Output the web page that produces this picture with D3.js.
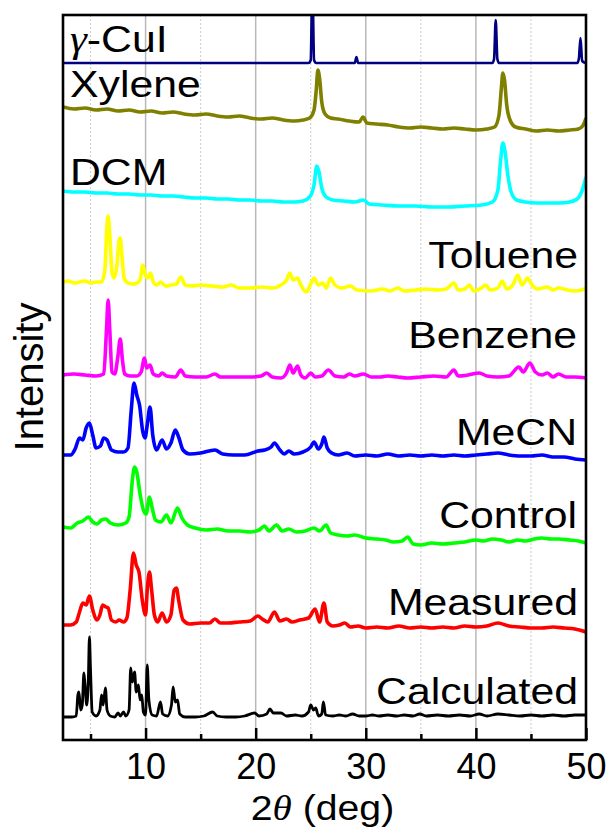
<!DOCTYPE html>
<html>
<head>
<meta charset="utf-8">
<script src="https://cdn.jsdelivr.net/npm/d3@7"></script>
<style>
  html, body { margin: 0; padding: 0; background: #fff; }
  svg { display: block; }
  text { font-family: "Liberation Sans", Arial, sans-serif; fill: #000; }
</style>
</head>
<body>
<div id="chart"></div>
<script>
// ---------------- DATA (2θ in degrees, stacked intensity in arbitrary units) ----------------
const xTicks = [10, 20, 30, 40, 50];
const xMinorTicks = [5, 15, 25, 35, 45];
const seriesNames = ["γ-CuI", "Xylene", "DCM", "Toluene", "Benzene", "MeCN", "Control", "Measured", "Calculated"];
const seriesColors = ["#000080", "#808000", "#00FFFF", "#FFFF00", "#FF00FF", "#0000FF", "#00FF00", "#FF0000", "#000000"];

const cuiData = [[2.5,677],[24.8,677],[25.0,680],[25.15,760],[25.3,680],[25.5,677],[29.0,677],[29.15,683],[29.3,677],[41.5,677],[41.65,681],[41.8,720],[41.95,681],[42.1,677],[49.2,677],[49.35,681],[49.5,702],[49.65,679],[50,677]];

const xyleneData = [[2.5,633],[3.5,631],[4.5,632],[5.5,630],[6.5,631],[7.5,629],[8.5,630],[9.5,628],[10.5,629],[11.5,627],[12.5,628],[13.5,626],[14.5,625],[15.5,626],[16.5,624],[17.5,623],[18.5,624],[19.5,622],[20.5,621],[21.5,622],[22.5,620],[23.5,619],[24.3,620],[24.9,622],[25.3,630],[25.5,650],[25.65,670],[25.8,662],[26.0,638],[26.3,626],[26.8,622],[27.5,621],[28.5,619],[29.4,618],[29.75,623],[30.1,617],[31,616],[32,615],[33,613],[34,612],[35,613],[36,612],[37,611],[38,612],[39,611],[40,610],[41,611],[41.7,613],[42.1,625],[42.3,650],[42.45,667],[42.6,660],[42.8,635],[43.1,620],[43.6,613],[44.5,611],[45.5,609],[46.5,610],[47.5,609],[48.5,610],[49.3,611],[49.7,614],[50,622]];

const dcmData = [[2.5,549],[3.5,548],[4.5,548],[5.5,547],[6.5,547],[7.5,546],[8.5,546],[9.5,545],[10.5,545],[11.5,544],[12.5,544],[13.5,543],[14.5,542],[15.5,542],[16.5,541],[17.5,541],[18.5,540],[19.5,540],[20.5,539],[21.5,539],[22.5,538],[23.5,538],[24.3,539],[24.9,543],[25.3,555],[25.55,574],[25.75,568],[26.0,552],[26.4,543],[27,540],[28,539],[29,538],[29.8,540],[30.3,536],[31.5,535],[33,534],[34.5,534],[36,533],[37.5,533],[39,534],[40.5,535],[41.5,538],[42.0,550],[42.25,580],[42.45,597],[42.65,588],[42.9,565],[43.2,548],[43.7,540],[44.5,538],[45.5,537],[46.5,537],[47.5,537],[48.5,538],[49.2,541],[49.6,548],[50,563]];

const tolueneData = [[2.5,458],[3,459],[3.5,457],[4,458],[4.5,459],[5,457],[5.5,458],[6.0,458],[6.3,470],[6.5,515],[6.6,524],[6.75,505],[6.95,468],[7.15,462],[7.4,475],[7.6,500],[7.7,502],[7.85,485],[8.05,462],[8.4,457],[9.0,456],[9.5,460],[9.75,475],[9.95,466],[10.2,462],[10.45,467],[10.7,458],[11.0,455],[11.4,458],[11.8,454],[12.3,455],[12.8,456],[13.2,463],[13.6,455],[14.2,454],[15,455],[16,454],[17,453],[17.8,455],[18.5,452],[19.5,452],[20.5,453],[21.5,452],[22.3,455],[22.8,460],[23.1,467],[23.4,460],[23.8,462],[24.1,455],[24.6,448],[25.0,456],[25.3,462],[25.7,455],[26.1,457],[26.4,452],[26.8,462],[27.2,455],[27.8,452],[28.6,454],[29.2,450],[30.5,449],[31.5,451],[32.2,449],[32.9,452],[33.5,449],[34.5,450],[35.5,451],[36.5,450],[37.3,451],[38.0,457],[38.4,450],[39.0,451],[39.4,455],[39.8,449],[40.5,452],[40.9,455],[41.3,450],[42.0,452],[42.4,459],[42.8,451],[43.4,456],[43.8,465],[44.2,455],[44.7,462],[45.1,455],[45.6,451],[46.5,453],[47,450],[47.5,452],[48.3,450],[49,449],[49.6,450],[50,452]];

const benzeneData = [[2.5,365],[3.5,366],[4.5,365],[5.5,364],[6.2,366],[6.45,410],[6.6,440],[6.75,410],[6.95,368],[7.2,366],[7.5,385],[7.7,401],[7.9,380],[8.1,366],[8.6,364],[9.2,364],[9.6,368],[9.9,382],[10.1,372],[10.4,375],[10.7,366],[11.2,364],[11.5,367],[11.9,364],[12.7,363],[13.2,370],[13.6,364],[14.5,363],[15.5,363],[16.3,366],[16.8,363],[18,363],[19.5,363],[20.5,364],[21,367],[21.5,363],[22.3,362],[22.8,367],[23.1,375],[23.4,367],[23.8,374],[24.1,365],[24.5,362],[25.0,367],[25.4,363],[26.0,364],[26.6,370],[27.2,364],[28,363],[28.5,366],[29,364],[29.8,366],[30.5,363],[31.3,363],[32,364],[32.9,363],[33.8,362],[35,363],[36.2,364],[37.3,363],[38.0,370],[38.4,364],[39.3,365],[40.3,367],[41,364],[42,363],[43,364],[43.9,373],[44.3,368],[44.9,377],[45.4,368],[46,365],[46.5,367],[47,363],[47.5,366],[48.2,363],[49,363],[50,362]];

const mecnData = [[2.5,285],[3.2,285],[3.6,291],[4.0,302],[4.3,300],[4.6,312],[4.9,317],[5.2,305],[5.5,292],[5.9,294],[6.2,302],[6.5,300],[6.9,290],[7.5,288],[8.0,288],[8.4,292],[8.7,330],[8.95,357],[9.2,345],[9.45,335],[9.75,308],[9.95,302],[10.15,315],[10.4,333],[10.65,305],[11.0,290],[11.5,300],[11.9,291],[12.3,297],[12.7,310],[13.0,303],[13.4,290],[14,286],[15,287],[16.3,290],[17.0,286],[18,285],[19,285],[20.2,289],[20.8,290],[21.4,293],[21.7,297],[22.2,290],[22.6,286],[23.0,289],[23.5,286],[24.3,288],[25.0,293],[25.3,298],[25.7,291],[26.0,296],[26.2,303],[26.5,292],[26.9,287],[27.5,285],[28.3,287],[29,284],[30,285],[31,284],[32,286],[33,284],[34,285],[35,284],[36,285],[37,284],[38,285],[39,284],[40,285],[41,286],[42,287],[43,285],[44,284],[45,284],[46,285],[47,283],[48,283],[49,281],[50,280]];

const controlData = [[2.5,213],[3.2,212],[3.8,217],[4.3,219],[4.8,223],[5.2,218],[5.6,216],[6.0,220],[6.4,221],[6.8,217],[7.5,215],[8.2,217],[8.5,223],[8.8,260],[9.0,273],[9.2,268],[9.5,246],[9.8,230],[10.05,226],[10.35,243],[10.6,232],[10.9,220],[11.4,218],[11.9,225],[12.3,217],[12.9,232],[13.3,222],[13.8,215],[14.5,212],[15.5,210],[16.5,211],[17.5,209],[18.5,209],[19.5,208],[20.3,210],[20.8,214],[21.2,209],[21.9,215],[22.4,209],[23.0,211],[23.7,208],[24.5,209],[25.3,212],[25.8,209],[26.4,215],[26.8,207],[27.5,205],[28.3,204],[29,205],[30,202],[31,201],[31.8,200],[32.5,198],[33.3,199],[33.8,203],[34.3,196],[35,195],[36,197],[37,196],[38,197],[39,198],[40,200],[40.7,199],[41.5,201],[42.3,200],[43,198],[43.8,200],[44.5,199],[45.3,201],[46,202],[46.8,201],[47.5,201],[48.5,200],[49.3,199],[50,197]];

const measuredData = [[2.5,115],[3.2,115],[3.7,118],[4.0,128],[4.3,137],[4.6,135],[4.9,144],[5.2,130],[5.6,120],[5.85,125],[6.1,135],[6.4,133],[6.6,132],[6.9,120],[7.3,118],[7.6,120],[8.0,118],[8.3,122],[8.6,150],[8.9,187],[9.15,175],[9.4,168],[9.7,140],[10.0,125],[10.15,150],[10.35,168],[10.55,150],[10.8,125],[11.1,118],[11.5,127],[11.9,118],[12.3,125],[12.6,150],[12.8,152],[13.0,140],[13.4,120],[14,116],[15,117],[15.8,117],[16.3,121],[16.8,117],[17.5,117],[18.5,118],[19.5,119],[20.2,124],[20.6,121],[21.1,118],[21.7,128],[22.2,119],[22.8,121],[23.3,118],[24,120],[24.8,122],[25.4,131],[25.8,118],[26.2,137],[26.5,118],[27,114],[27.6,115],[28.1,117],[28.6,113],[29.3,114],[30,112],[31,113],[32,112],[33,114],[34,112],[35,113],[36,112],[37,113],[38,112],[39,114],[40,113],[41,114],[42,117],[43,114],[44,113],[45,112],[46,112],[47,113],[48,112],[49,111],[50,108]];

const calculatedData = [[2.5,23],[3.3,23],[3.7,24],[3.85,45],[3.95,48],[4.1,30],[4.25,35],[4.4,67],[4.5,55],[4.65,35],[4.8,60],[4.9,103],[5.0,70],[5.15,28],[5.5,24],[5.85,30],[6.0,45],[6.15,35],[6.35,52],[6.5,30],[6.8,24],[7.2,23],[7.5,27],[7.7,24],[8.0,28],[8.2,24],[8.5,30],[8.65,72],[8.8,58],[9.0,68],[9.15,48],[9.35,55],[9.5,40],[9.65,45],[9.8,28],[10.0,25],[10.15,75],[10.3,40],[10.6,25],[11.0,24],[11.35,38],[11.55,26],[12.0,24],[12.35,35],[12.5,53],[12.7,38],[12.9,40],[13.1,26],[13.6,23],[14.5,23],[15.3,24],[16.1,28],[16.5,24],[17.3,23],[18.2,23],[19,24],[19.9,27],[20.3,24],[21.0,26],[21.3,31],[21.6,27],[22.3,27],[22.8,24],[23.6,25],[24.2,24],[24.8,28],[25.0,35],[25.25,30],[25.45,32],[25.7,24],[26.0,26],[26.15,38],[26.35,25],[27,24],[27.6,25],[28.2,24],[28.8,26],[29.4,24],[30,24],[30.6,25],[31.2,24],[32,25],[32.8,24],[33.5,25],[34.3,24],[34.9,26],[35.5,24],[36.5,25],[37.5,24],[38.5,25],[39.5,24],[40.3,26],[41,24],[42,26],[43,25],[44,24],[45,25],[46,24],[47,25],[48,24],[49,25],[50,25]];

const seriesData = [cuiData, xyleneData, dcmData, tolueneData, benzeneData, mecnData, controlData, measuredData, calculatedData];

// ---------------- LAYOUT ----------------
const W = 615, H = 834;
const margin = { left: 63, right: 29, top: 15, bottom: 94 };
const plotW = W - margin.left - margin.right;
const plotH = H - margin.top - margin.bottom;

// label placement: [x, baseline y, anchor]
const labelLayout = [
  [70, 52, "start"],
  [70, 97, "start"],
  [70, 185, "start"],
  [578, 268, "end"],
  [577, 348, "end"],
  [577, 445, "end"],
  [577, 528, "end"],
  [578, 615, "end"],
  [578, 704, "end"]
];
const lineWidths = [2.6, 3.6, 3.6, 3.6, 3.6, 3.6, 3.6, 3.6, 2.8];

const svg = d3.select("#chart").append("svg").attr("width", W).attr("height", H);

const x = d3.scaleLinear().domain([2.5, 50]).range([0, plotW]);
const y = d3.scaleLinear().domain([0, plotH]).range([plotH, 0]);

const g = svg.append("g").attr("transform", `translate(${margin.left},${margin.top})`);

svg.append("defs").append("clipPath").attr("id", "clip")
  .append("rect").attr("x", 0).attr("y", 0).attr("width", plotW).attr("height", plotH);

// grid lines
g.selectAll(".gmaj").data(xTicks.filter(d => d < 50)).enter().append("line")
  .attr("x1", d => x(d)).attr("x2", d => x(d)).attr("y1", 0).attr("y2", plotH)
  .attr("stroke", "#b8b8b8").attr("stroke-width", 1.5);
g.selectAll(".gmin").data(xMinorTicks).enter().append("line")
  .attr("x1", d => x(d)).attr("x2", d => x(d)).attr("y1", 0).attr("y2", plotH)
  .attr("stroke", "#cfcfcf").attr("stroke-width", 1.1).attr("stroke-dasharray", "2,2");

// traces
const line = d3.line().x(d => x(d[0])).y(d => y(d[1])).curve(d3.curveMonotoneX);
const traces = g.append("g").attr("clip-path", "url(#clip)");
seriesData.forEach((data, i) => {
  traces.append("path").datum(data)
    .attr("d", line)
    .attr("fill", "none")
    .attr("stroke", seriesColors[i])
    .attr("stroke-width", lineWidths[i])
    .attr("stroke-linejoin", "round");
});

// axes ticks (inward)
const xAxis = d3.axisBottom(x).tickValues(xTicks).tickSize(-12).tickPadding(13).tickFormat(d3.format("d"));
const ax = g.append("g").attr("transform", `translate(0,${plotH})`).call(xAxis);
ax.select(".domain").remove();
ax.selectAll(".tick line").attr("stroke", "#000").attr("stroke-width", 2.5);
ax.selectAll(".tick text").attr("font-size", 36).attr("font-family", "Liberation Sans, Arial, sans-serif").attr("fill", "#000");

const xMinor = d3.axisBottom(x).tickValues(xMinorTicks).tickSize(-6).tickFormat("");
const axm = g.append("g").attr("transform", `translate(0,${plotH})`).call(xMinor);
axm.select(".domain").remove();
axm.selectAll(".tick line").attr("stroke", "#000").attr("stroke-width", 2.5);

// frame
g.append("rect").attr("x", 0).attr("y", 0).attr("width", plotW).attr("height", plotH)
  .attr("fill", "none").attr("stroke", "#000").attr("stroke-width", 2.6);

// series labels
seriesNames.forEach((name, i) => {
  const [lx, ly, anchor] = labelLayout[i];
  const t = svg.append("text")
    .attr("transform", `translate(${lx},${ly}) scale(1.14,1)`)
    .attr("text-anchor", anchor)
    .attr("font-size", 37.5);
  if (name.startsWith("γ")) {
    t.append("tspan").attr("font-family", "Liberation Serif, Times New Roman, serif").attr("font-style", "italic").text("γ");
    t.append("tspan").text(name.slice(1));
  } else {
    t.text(name);
  }
});

// axis titles
const xt = svg.append("text")
  .attr("transform", `translate(${margin.left + plotW / 2 - 2},820) scale(1.12,1)`)
  .attr("text-anchor", "middle").attr("font-size", 35);
xt.append("tspan").text("2");
xt.append("tspan").attr("font-family", "Liberation Serif, Times New Roman, serif").attr("font-style", "italic").text("θ");
xt.append("tspan").text(" (deg)");

svg.append("text")
  .attr("transform", `translate(43,377) rotate(-90)`)
  .attr("text-anchor", "middle").attr("font-size", 40)
  .text("Intensity");
</script>
</body>
</html>
